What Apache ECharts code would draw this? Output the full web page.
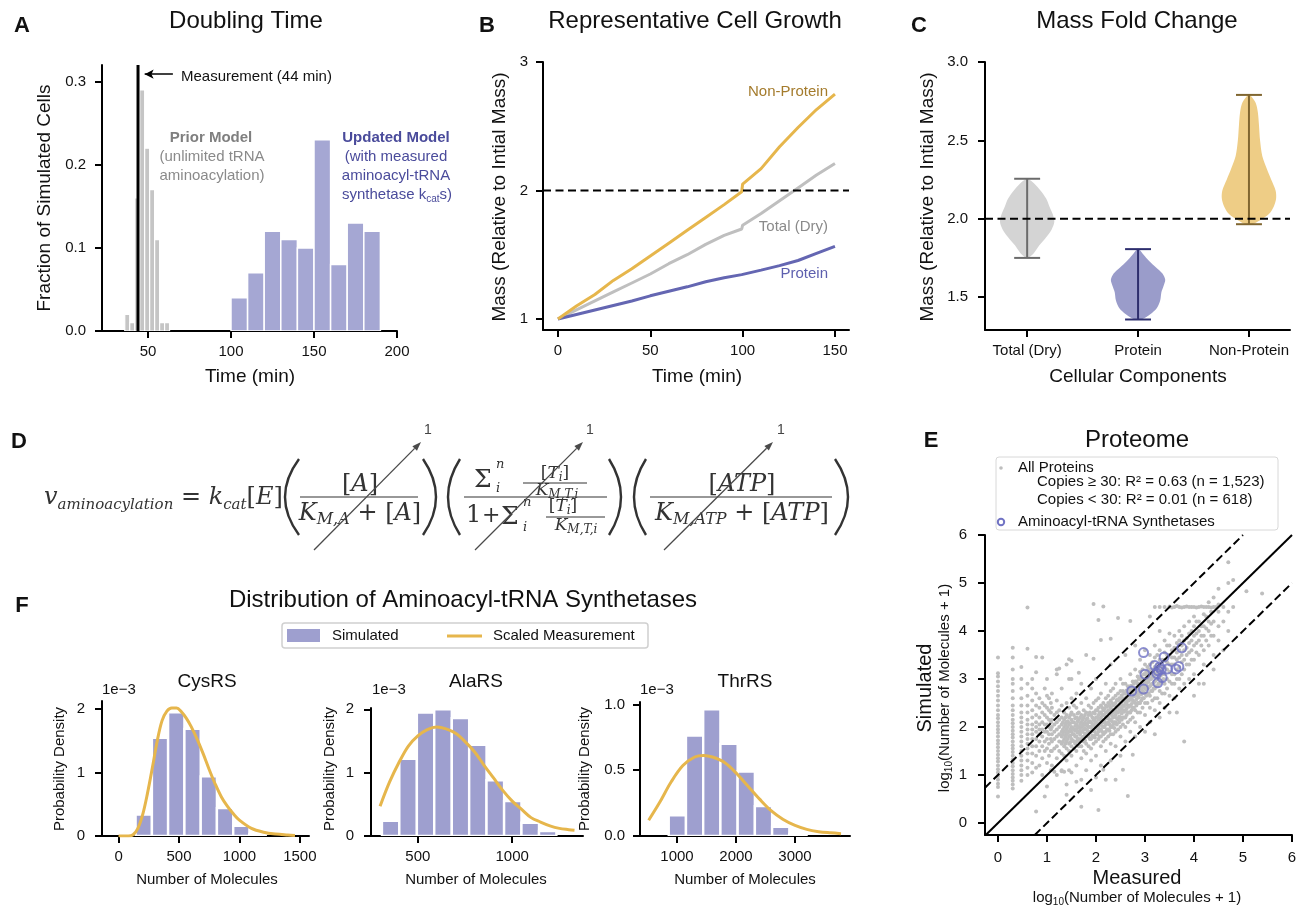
<!DOCTYPE html>
<html>
<head>
<meta charset="utf-8">
<script src="https://cdn.jsdelivr.net/npm/echarts@6/dist/echarts.min.js"></script>
<style>
  html, body { margin: 0; padding: 0; background: #fff; }
  #main { width: 1301px; height: 908px; }
</style>
</head>
<body>
<div id="main"></div>
<script>
var FONT = '"Liberation Sans", Arial, sans-serif';
var MATH = '"DejaVu Serif", serif';

// ---- A: doubling time histograms
var priorBinEdges = [36, 39, 42, 45, 48, 51, 54, 57, 60, 63];
var priorFraction = [0.02, 0.01, 0.16, 0.29, 0.22, 0.17, 0.11, 0.01, 0.01];
var updatedBinEdges = [100, 110, 120, 130, 140, 150, 160, 170, 180, 190];
var updatedFraction = [0.04, 0.07, 0.12, 0.11, 0.10, 0.23, 0.08, 0.13, 0.12];
var measuredDoubling = 44;

// ---- B: representative cell growth
var growthTime = [0, 10, 20, 30, 40, 50, 60, 70, 80, 90, 99.5, 100, 110, 120, 130, 140, 150];
var massNonProtein = [1.0, 1.1, 1.19, 1.3, 1.39, 1.49, 1.59, 1.69, 1.79, 1.89, 1.99, 2.05, 2.17, 2.34, 2.49, 2.63, 2.75];
var massTotal = [1.0, 1.07, 1.14, 1.21, 1.28, 1.35, 1.43, 1.5, 1.58, 1.65, 1.7, 1.73, 1.82, 1.92, 2.02, 2.12, 2.21];
var massProtein = [1.0, 1.035, 1.07, 1.105, 1.14, 1.18, 1.215, 1.25, 1.29, 1.32, 1.345, 1.346, 1.38, 1.415, 1.455, 1.51, 1.565];

// ---- C: mass fold change (violins: [fold change, half width])
var components = ['Total (Dry)', 'Protein', 'Non-Protein'];
var foldMin = [1.75, 1.357, 1.965];
var foldMax = [2.255, 1.806, 2.79];
var violinTotal = [[1.75, 0.01], [1.78, 0.06], [1.83, 0.11], [1.88, 0.17], [1.93, 0.22], [1.98, 0.245], [2.03, 0.23], [2.08, 0.2], [2.13, 0.17], [2.18, 0.12], [2.22, 0.07], [2.255, 0.01]];
var violinProtein = [[1.357, 0.03], [1.39, 0.11], [1.43, 0.17], [1.48, 0.2], [1.53, 0.21], [1.57, 0.23], [1.61, 0.245], [1.65, 0.22], [1.69, 0.16], [1.73, 0.1], [1.77, 0.05], [1.806, 0.01]];
var violinNonProtein = [[1.965, 0.03], [1.99, 0.1], [2.03, 0.18], [2.08, 0.225], [2.13, 0.245], [2.18, 0.24], [2.25, 0.2], [2.32, 0.16], [2.4, 0.12], [2.5, 0.1], [2.6, 0.09], [2.68, 0.08], [2.74, 0.06], [2.79, 0.01]];

// ---- E: proteome, log10(measured+1) column -> log10(simulated+1) values
var proteomeColumns = [
  [0, [0.55, 0.75, 0.82, 0.9, 0.98, 1.05, 1.12, 1.2, 1.28, 1.35, 1.42, 1.5, 1.58, 1.65, 1.72, 1.8, 1.88, 1.95, 2.02, 2.1, 2.18, 2.25, 2.35, 2.45, 2.55, 2.65, 2.75, 2.85, 2.95, 3.05, 3.12, 3.45]],
  [0.301, [0.72, 0.8, 0.88, 0.95, 1.02, 1.1, 1.18, 1.25, 1.32, 1.4, 1.48, 1.55, 1.62, 1.7, 1.78, 1.85, 1.92, 2.0, 2.08, 2.15, 2.25, 2.35, 2.45, 2.6, 2.75, 2.9, 3.0, 3.2, 3.45, 3.65]],
  [0.477, [0.88, 1.0, 1.1, 1.2, 1.3, 1.4, 1.5, 1.6, 1.7, 1.8, 1.9, 2.0, 2.1, 2.2, 2.3, 2.45, 2.6, 2.8, 3.0, 3.25]],
  [0.602, [1.0, 1.15, 1.3, 1.45, 1.55, 1.65, 1.75, 1.85, 1.95, 2.05, 2.15, 2.3, 2.45, 2.65, 2.9, 3.63, 4.49]],
  [0.699, [1.05, 1.25, 1.45, 1.6, 1.75, 1.85, 1.95, 2.05, 2.2, 2.35, 2.55, 2.8, 3.0]],
  [0.778, [0.24, 1.15, 1.4, 1.6, 1.75, 1.9, 2.0, 2.1, 2.25, 2.45, 2.7, 3.14, 3.46]],
  [0.845, [1.2, 1.5, 1.7, 1.85, 1.95, 2.05, 2.2, 2.4, 2.6]],
  [0.903, [1.0, 1.35, 1.6, 1.8, 1.95, 2.1, 2.3, 2.5, 3.45]],
  [0.954, [0.55, 1.5, 1.7, 1.9, 2.05, 2.25, 2.45, 2.8]],
  [1.0, [0.76, 1.25, 1.55, 1.75, 1.9, 2.05, 2.2, 2.4, 2.65, 3.0]],
  [1.041, [1.4, 1.65, 1.85, 2.0, 2.15, 2.35, 2.6]],
  [1.079, [1.1, 1.5, 1.75, 1.95, 2.1, 2.3, 2.5]],
  [1.1, [1.2, 1.5, 1.7, 1.85, 2.0, 2.15, 2.4, 2.7]],
  [1.15, [1.07, 1.55, 1.75, 1.9, 2.05, 2.25]],
  [1.2, [1.0, 1.35, 1.6, 1.8, 1.95, 2.1, 2.3, 2.55, 3.1, 3.2]],
  [1.25, [1.5, 1.7, 1.85, 2.0, 2.15, 2.35, 3.22]],
  [1.3, [1.08, 1.1, 1.45, 1.65, 1.8, 1.9, 2.05, 2.2, 2.45, 2.8]],
  [1.35, [1.07, 1.4, 1.6, 1.75, 1.9, 2.0, 2.15, 2.3]],
  [1.4, [0.59, 0.8, 1.3, 1.55, 1.7, 1.85, 1.95, 2.1, 2.25, 2.5, 3.3]],
  [1.45, [1.1, 1.5, 1.65, 1.8, 1.9, 2.05, 2.2, 2.4, 3.0, 3.41]],
  [1.5, [1.05, 1.4, 1.6, 1.75, 1.9, 2.0, 2.15, 2.3, 2.6, 3.0, 3.38]],
  [1.55, [1.55, 1.7, 1.85, 1.95, 2.1, 2.25, 2.45]],
  [1.6, [0.86, 1.2, 1.5, 1.7, 1.8, 1.95, 2.05, 2.2, 2.4, 2.7]],
  [1.65, [1.6, 1.75, 1.9, 2.0, 2.15, 2.3, 3.13]],
  [1.7, [0.34, 0.9, 1.35, 1.6, 1.75, 1.9, 2.0, 2.1, 2.25, 2.5, 2.9]],
  [1.75, [1.5, 1.7, 1.8, 1.95, 2.05, 2.2, 2.35]],
  [1.8, [1.1, 1.45, 1.65, 1.85, 1.95, 2.05, 2.15, 2.3, 2.6, 3.5]],
  [1.85, [1.6, 1.8, 1.9, 2.0, 2.1, 2.25, 2.45]],
  [1.9, [0.69, 1.3, 1.55, 1.75, 1.9, 2.0, 2.1, 2.25, 2.4, 2.8]],
  [1.95, [1.65, 1.8, 1.95, 2.05, 2.15, 2.3, 2.5, 3.42, 4.56]],
  [2.0, [0.95, 1.4, 1.7, 1.85, 2.0, 2.1, 2.2, 2.35, 2.55, 3.0]],
  [2.05, [0.27, 1.75, 1.9, 2.0, 2.15, 2.25, 2.4, 2.6, 4.23]],
  [2.1, [1.2, 1.6, 1.8, 1.95, 2.1, 2.2, 2.3, 2.45, 2.7, 3.81]],
  [2.15, [1.11, 1.7, 1.85, 2.0, 2.1, 2.25, 2.35, 2.5, 4.51]],
  [2.2, [0.9, 1.5, 1.75, 1.9, 2.05, 2.2, 2.3, 2.45, 2.6, 2.9]],
  [2.25, [1.8, 1.95, 2.1, 2.2, 2.35, 2.5, 2.65]],
  [2.3, [1.3, 1.65, 1.85, 2.0, 2.15, 2.3, 2.4, 2.55, 2.75, 3.3, 3.84]],
  [2.35, [1.85, 2.05, 2.2, 2.3, 2.45, 2.6, 2.8]],
  [2.4, [0.9, 1.6, 1.9, 2.1, 2.25, 2.35, 2.5, 2.65, 2.9]],
  [2.45, [1.95, 2.15, 2.3, 2.4, 2.55, 2.7, 4.27]],
  [2.5, [1.4, 1.8, 2.0, 2.2, 2.35, 2.5, 2.6, 2.75, 3.0]],
  [2.55, [1.11, 2.05, 2.2, 2.35, 2.45, 2.6, 2.75, 2.9]],
  [2.6, [1.7, 2.0, 2.2, 2.35, 2.5, 2.6, 2.7, 2.9, 3.5]],
  [2.65, [0.56, 2.1, 2.3, 2.45, 2.55, 2.7, 2.85]],
  [2.7, [1.9, 2.15, 2.3, 2.45, 2.6, 2.75, 2.85, 3.1, 4.21]],
  [2.75, [1.42, 2.2, 2.4, 2.55, 2.7, 2.8, 2.95]],
  [2.8, [1.8, 2.1, 2.35, 2.5, 2.65, 2.8, 2.95, 3.2, 3.7]],
  [2.85, [2.3, 2.5, 2.65, 2.8, 2.9, 3.05]],
  [2.9, [2.0, 2.3, 2.5, 2.7, 2.85, 3.0, 3.15, 3.4]],
  [2.95, [2.4, 2.6, 2.75, 2.9, 3.0, 3.2]],
  [3.0, [1.9, 2.25, 2.5, 2.7, 2.8, 2.95, 3.1, 3.3, 3.6]],
  [3.05, [2.5, 2.7, 2.85, 3.0, 3.1, 3.25]],
  [3.1, [2.1, 2.4, 2.65, 2.85, 3.0, 3.15, 3.3, 3.5, 4.3]],
  [3.15, [2.55, 2.75, 2.9, 3.05, 3.2, 3.35]],
  [3.2, [1.85, 2.35, 2.6, 2.8, 2.95, 3.1, 3.25, 3.45, 3.7, 4.5]],
  [3.25, [2.6, 2.85, 3.0, 3.15, 3.3, 3.5]],
  [3.3, [2.2, 2.5, 2.75, 2.9, 3.05, 3.2, 3.4, 3.6, 4.0, 4.5]],
  [3.35, [2.7, 2.95, 3.1, 3.25, 3.4]],
  [3.4, [2.4, 2.7, 2.9, 3.1, 3.25, 3.4, 3.55, 3.8, 4.5]],
  [3.45, [2.8, 3.0, 3.2, 3.35, 3.5, 3.7]],
  [3.5, [2.3, 2.65, 2.95, 3.15, 3.3, 3.5, 3.7, 3.95, 4.51]],
  [3.55, [2.9, 3.1, 3.3, 3.45, 3.6, 4.49]],
  [3.6, [2.6, 2.9, 3.1, 3.3, 3.45, 3.65, 3.9, 4.5]],
  [3.65, [2.3, 3.0, 3.2, 3.4, 3.55, 3.75, 4.52]],
  [3.7, [2.8, 3.0, 3.25, 3.45, 3.6, 3.8, 4.0, 4.5]],
  [3.75, [3.1, 3.35, 3.5, 3.7, 3.9, 4.49]],
  [3.8, [1.7, 2.9, 3.2, 3.4, 3.6, 3.8, 4.1, 4.5]],
  [3.85, [3.3, 3.5, 3.65, 3.85, 4.51]],
  [3.9, [3.0, 3.3, 3.55, 3.75, 3.95, 4.2, 4.5]],
  [3.95, [3.4, 3.6, 3.8, 4.0, 4.5]],
  [4.0, [2.65, 3.1, 3.4, 3.7, 3.9, 4.1, 4.3, 4.5]],
  [4.05, [3.55, 3.75, 3.95, 4.2, 4.49]],
  [4.1, [2.9, 3.5, 3.8, 4.0, 4.2, 4.5]],
  [4.15, [3.7, 3.9, 4.1, 4.51]],
  [4.2, [2.9, 3.3, 3.6, 3.9, 4.1, 4.35, 4.5]],
  [4.25, [3.8, 4.05, 4.3, 4.5]],
  [4.3, [3.7, 4.0, 4.2, 4.5, 4.6]],
  [4.35, [3.9, 4.15, 4.4, 4.49]],
  [4.4, [3.2, 3.5, 3.9, 4.2, 4.5, 4.7]],
  [4.45, [4.5]],
  [4.5, [3.8, 4.1, 4.4, 4.55, 4.88]],
  [4.6, [3.6, 4.2, 4.5]],
  [4.7, [4.0, 4.4, 5.0, 5.43]],
  [4.8, [4.5, 5.06]],
  [5.07, [4.83]],
  [5.39, [4.78]]
];
// dense core of the cloud, read between the columns above
var proteomeCore = [
  [1.325, [1.7, 1.85, 1.95, 2.1]], [1.375, [1.65, 1.8, 1.9, 2.05, 2.2]], [1.425, [1.75, 1.88, 2.0, 2.12]],
  [1.475, [1.68, 1.82, 1.95, 2.08, 2.25]], [1.525, [1.72, 1.85, 1.98, 2.1]], [1.575, [1.65, 1.8, 1.92, 2.02, 2.18]],
  [1.625, [1.75, 1.88, 2.0, 2.12, 2.28]], [1.675, [1.7, 1.84, 1.96, 2.06, 2.2]], [1.725, [1.78, 1.9, 2.02, 2.15]],
  [1.775, [1.72, 1.86, 1.98, 2.1, 2.25]], [1.825, [1.8, 1.92, 2.03, 2.18]], [1.875, [1.75, 1.88, 2.0, 2.12, 2.3]],
  [1.925, [1.82, 1.95, 2.06, 2.2]], [1.975, [1.78, 1.9, 2.02, 2.13, 2.28]], [2.025, [1.85, 1.97, 2.08, 2.2, 2.35]],
  [2.075, [1.8, 1.94, 2.05, 2.17, 2.3]], [2.125, [1.9, 2.02, 2.14, 2.26, 2.4]], [2.175, [1.88, 2.0, 2.12, 2.24, 2.38]],
  [2.225, [1.95, 2.07, 2.18, 2.3, 2.42]], [2.275, [1.92, 2.05, 2.16, 2.28, 2.45]], [2.325, [2.0, 2.12, 2.24, 2.36, 2.5]],
  [2.375, [1.98, 2.1, 2.22, 2.34, 2.48]], [2.425, [2.05, 2.18, 2.3, 2.42, 2.56]], [2.475, [2.1, 2.22, 2.34, 2.46, 2.6]],
  [2.525, [2.15, 2.28, 2.4, 2.52, 2.66]], [2.575, [2.2, 2.32, 2.44, 2.56, 2.7]], [2.625, [2.25, 2.38, 2.5, 2.62, 2.76]],
  [2.675, [2.3, 2.42, 2.55, 2.66, 2.8]], [2.725, [2.35, 2.48, 2.6, 2.72, 2.86]], [2.775, [2.4, 2.52, 2.64, 2.76, 2.9]],
  [2.825, [2.45, 2.58, 2.7, 2.82, 2.95]], [2.875, [2.5, 2.62, 2.74, 2.86, 3.0]], [2.925, [2.55, 2.68, 2.8, 2.92, 3.05]],
  [2.975, [2.6, 2.72, 2.84, 2.96, 3.1]], [3.025, [2.65, 2.78, 2.9, 3.02, 3.15]], [3.075, [2.7, 2.82, 2.94, 3.06, 3.2]],
  [3.125, [2.75, 2.88, 3.0, 3.12]], [3.175, [2.8, 2.92, 3.04, 3.16]], [3.225, [2.85, 2.98, 3.1, 3.22]],
  [3.275, [2.9, 3.02, 3.14]], [3.325, [2.95, 3.08, 3.2]], [3.375, [3.0, 3.12, 3.25]]
];
var synthetases = [[2.97, 3.55], [3.75, 3.65], [3.39, 3.46], [3.2, 3.28], [3.27, 3.17], [3.46, 3.21], [3.63, 3.21], [3.69, 3.26], [3.0, 3.1], [3.35, 3.03], [3.26, 2.92], [2.97, 2.79], [2.73, 2.75], [3.33, 3.2], [3.24, 3.12], [3.3, 3.25]];

// ---- F: synthetase distributions (density in units of 1e-3)
var cysEdges = [141, 276, 410, 545, 680, 814, 949, 1083, 1218];
var cysDensity = [0.34, 1.55, 1.95, 1.69, 0.94, 0.44, 0.16, 0.03];
var cysMeasured = [[0, 0], [80, 0], [120, 0.02], [160, 0.12], [200, 0.34], [240, 0.68], [280, 1.08], [320, 1.5], [360, 1.82], [400, 1.97], [440, 2.02], [480, 2.02], [520, 1.96], [560, 1.86], [600, 1.73], [650, 1.53], [700, 1.3], [750, 1.05], [800, 0.82], [850, 0.62], [900, 0.47], [950, 0.35], [1000, 0.25], [1100, 0.12], [1200, 0.06], [1300, 0.03], [1400, 0.015], [1460, 0.008]];
var alaEdges = [310, 402, 495, 587, 680, 772, 864, 957, 1049, 1142, 1234];
var alaDensity = [0.24, 1.22, 1.95, 2.0, 1.86, 1.44, 0.88, 0.55, 0.21, 0.08];
var alaMeasured = [[300, 0.47], [350, 0.85], [400, 1.16], [450, 1.42], [500, 1.58], [550, 1.68], [600, 1.72], [650, 1.69], [700, 1.62], [750, 1.49], [800, 1.33], [850, 1.12], [900, 0.92], [950, 0.72], [1000, 0.55], [1050, 0.42], [1100, 0.29], [1150, 0.22], [1200, 0.16], [1250, 0.12], [1300, 0.1], [1330, 0.09]];
var thrEdges = [860, 1152, 1444, 1736, 2028, 2320, 2612, 2904, 3196];
var thrDensity = [0.157, 0.763, 0.962, 0.7, 0.49, 0.227, 0.07, 0.015];
var thrMeasured = [[520, 0.12], [700, 0.25], [900, 0.41], [1100, 0.535], [1300, 0.6], [1450, 0.612], [1600, 0.6], [1800, 0.56], [2000, 0.48], [2200, 0.38], [2400, 0.28], [2600, 0.19], [2800, 0.125], [3000, 0.08], [3200, 0.05], [3400, 0.033], [3600, 0.024], [3780, 0.018]];

// colours
var GOLD = '#e6b64c', PURPLE_BAR = '#9e9fcf';

var chart = echarts.init(document.getElementById('main'));

function zip(xs, ys) { return xs.map(function (x, i) { return [x, ys[i]]; }); }
function bins(edges, heights) { return heights.map(function (h, i) { return [edges[i], edges[i + 1], h]; }); }

var ctx = document.createElement('canvas').getContext('2d');
function textW(s, f) { ctx.font = f; return ctx.measureText(s).width; }
function fnt(p, family) { return (p[3] ? 'italic ' : '') + (p[4] ? 'bold ' : '') + p[1] + 'px ' + family; }
function txt(x, y, s, f, color, align, rot) {
  return { type: 'text', x: x, y: y, rotation: rot || 0,
    style: { text: s, font: f, fill: color || '#111', textAlign: align || 'center', align: align || 'center',
      textVerticalAlign: 'middle', verticalAlign: 'middle' } };
}
// a run of text pieces of differing size / offset: [text, size, dy, italic, bold]
function textRun(x, y, parts, align, family, color) {
  var ws = parts.map(function (p) { return textW(p[0], fnt(p, family)); });
  var total = ws.reduce(function (a, b) { return a + b; }, 0);
  var cx = align === 'center' ? x - total / 2 : (align === 'right' ? x - total : x);
  return parts.map(function (p, i) {
    var el = txt(cx, y + (p[2] || 0), p[0], fnt(p, family), color, 'left');
    cx += ws[i];
    return el;
  });
}
function logLabel(cx, cy, rot) {
  var kids = textRun(0, 0, [['log', 15], ['10', 10, 4], ['(Number of Molecules + 1)', 15]], 'center', FONT, '#111');
  return { type: 'group', x: cx, y: cy, rotation: rot || 0, children: kids };
}
function hline(x1, x2, y, w, c) { return { type: 'line', shape: { x1: x1, y1: y, x2: x2, y2: y }, style: { stroke: c || '#333', lineWidth: w || 1.2 } }; }
function paren(xEnd, xApex, y1, y2) {
  return { type: 'bezierCurve', shape: { x1: xEnd, y1: y1, x2: xEnd, y2: y2, cpx1: 2 * xApex - xEnd, cpy1: (y1 + y2) / 2 },
    style: { stroke: '#333', lineWidth: 2.4, fill: null } };
}
function arrow(x1, y1, x2, y2) {
  var a = Math.atan2(y2 - y1, x2 - x1), L = 9, W = 3.2;
  var bx = x2 - L * Math.cos(a), by = y2 - L * Math.sin(a);
  return [
    { type: 'line', shape: { x1: x1, y1: y1, x2: bx, y2: by }, style: { stroke: '#4a4a4a', lineWidth: 1.3 } },
    { type: 'polygon', shape: { points: [[x2, y2], [bx - W * Math.sin(a), by + W * Math.cos(a)], [bx + W * Math.sin(a), by - W * Math.cos(a)]] }, style: { fill: '#4a4a4a' } }
  ];
}

function valAxis(gi, min, max, ticks, fmt, margin) {
  return {
    type: 'value', gridIndex: gi, min: min, max: max,
    axisLine: { show: true, onZero: false, lineStyle: { color: '#000', width: 2 } },
    axisTick: { show: true, customValues: ticks, length: 7, lineStyle: { color: '#000', width: 2 } },
    axisLabel: { customValues: ticks, formatter: fmt, fontSize: 15, color: '#111', fontFamily: FONT, margin: margin },
    splitLine: { show: false }
  };
}
function f1(v) { return v.toFixed(1); }
function f0(v) { return String(Math.round(v)); }

function barSeries(ax, data, color, gap) {
  return {
    type: 'custom', xAxisIndex: ax, yAxisIndex: ax, data: data, encode: { x: [0, 1], y: 2 }, clip: true, z: 2,
    renderItem: function (params, api) {
      var p0 = api.coord([api.value(0), api.value(2)]);
      var p1 = api.coord([api.value(1), 0]);
      return { type: 'rect', shape: { x: p0[0], y: p0[1], width: p1[0] - p0[0], height: p1[1] - p0[1] },
        style: { fill: color, stroke: '#fff', lineWidth: gap } };
    }
  };
}
function lineSeries(ax, data, color, width, dash, z, smooth) {
  return { type: 'line', xAxisIndex: ax, yAxisIndex: ax, data: data, showSymbol: false, symbol: 'none', silent: true,
    z: z || 3, smooth: smooth || false, lineStyle: { color: color, width: width, type: dash || 'solid' } };
}

var violinProfiles = [violinTotal, violinProtein, violinNonProtein];
var violinFill = ['#d4d4d4', '#9a9cca', '#eecd86'];
var whiskerColor = ['#6b6b6b', '#2d2e6e', '#806630'];

var proteomePoints = [];
proteomeColumns.concat(proteomeCore).forEach(function (c) { c[1].forEach(function (y) { proteomePoints.push([c[0], y]); }); });

var grids = [
  { left: 102, top: 65, width: 295, height: 266 },   // A
  { left: 543, top: 62, width: 306, height: 268 },   // B
  { left: 985, top: 62, width: 305, height: 268 },   // C
  { left: 985, top: 535, width: 307, height: 300 },  // E
  { left: 102, top: 701, width: 207, height: 135 },  // F Cys
  { left: 371, top: 708, width: 212, height: 128 },  // F Ala
  { left: 640, top: 702, width: 210, height: 134 }   // F Thr
];

var xAxes = [
  valAxis(0, 22.3, 200, [50, 100, 150, 200], f0, 13),
  valAxis(1, -8.1, 157.6, [0, 50, 100, 150], f0, 13),
  valAxis(2, 0.62, 3.37, [1, 2, 3], function (v) { return components[Math.round(v) - 1]; }, 13),
  valAxis(3, -0.265, 6, [0, 1, 2, 3, 4, 5, 6], f0, 15),
  valAxis(4, -137, 1576, [0, 500, 1000, 1500], f0, 13),
  valAxis(5, 252, 1375, [500, 1000], f0, 13),
  valAxis(6, 373, 3932, [1000, 2000, 3000], f0, 13)
];
var yAxes = [
  valAxis(0, 0, 0.32, [0, 0.1, 0.2, 0.3], f1, 16),
  valAxis(1, 0.914, 3, [1, 2, 3], f0, 15),
  valAxis(2, 1.29, 3.0, [1.5, 2.0, 2.5, 3.0], f1, 17),
  valAxis(3, -0.25, 6, [0, 1, 2, 3, 4, 5, 6], f0, 18),
  valAxis(4, 0, 2.13, [0, 1, 2], f0, 17),
  valAxis(5, 0, 2.02, [0, 1, 2], f0, 17),
  valAxis(6, 0, 1.018, [0, 0.5, 1.0], f1, 15)
];

var series = [
  // A
  barSeries(0, bins(priorBinEdges, priorFraction), '#c5c5c5', 1.2),
  barSeries(0, bins(updatedBinEdges, updatedFraction), '#a5a7d3', 1.5),
  {
    type: 'line', xAxisIndex: 0, yAxisIndex: 0, data: [[measuredDoubling, 0], [measuredDoubling, 0.32]], symbol: 'none', silent: true, z: 4,
    lineStyle: { color: '#000', width: 3 },
    markLine: { silent: true, symbol: ['none', 'arrow'], symbolSize: [7, 9], label: { show: false },
      lineStyle: { color: '#000', width: 1.5, type: 'solid' },
      data: [[{ coord: [65, 0.309] }, { coord: [48, 0.309] }]] }
  },
  // B
  lineSeries(1, zip(growthTime, massTotal), '#bfbfbf', 3),
  lineSeries(1, zip(growthTime, massProtein), '#6466b2', 3),
  lineSeries(1, zip(growthTime, massNonProtein), GOLD, 3),
  lineSeries(1, [[-8.1, 2], [157.6, 2]], '#000', 2, [8, 4.5], 5),
  // C
  {
    type: 'custom', xAxisIndex: 2, yAxisIndex: 2, z: 2,
    data: components.map(function (c, i) { return [i + 1, foldMin[i], foldMax[i]]; }),
    encode: { x: 0, y: [1, 2] },
    renderItem: function (params, api) {
      var i = params.dataIndex, c = api.value(0), prof = violinProfiles[i];
      var left = prof.map(function (p) { return api.coord([c - p[1], p[0]]); });
      var right = prof.slice().reverse().map(function (p) { return api.coord([c + p[1], p[0]]); });
      var lo = api.coord([c, api.value(1)]), hi = api.coord([c, api.value(2)]);
      var xl = api.coord([c - 0.117, 2])[0], xr = api.coord([c + 0.117, 2])[0];
      var st = { stroke: whiskerColor[i], lineWidth: 2 };
      return { type: 'group', children: [
        { type: 'polygon', shape: { points: left.concat(right), smooth: 0.3 }, style: { fill: violinFill[i] } },
        { type: 'line', shape: { x1: lo[0], y1: lo[1], x2: hi[0], y2: hi[1] }, style: st },
        { type: 'line', shape: { x1: xl, y1: lo[1], x2: xr, y2: lo[1] }, style: st },
        { type: 'line', shape: { x1: xl, y1: hi[1], x2: xr, y2: hi[1] }, style: st }
      ] };
    }
  },
  lineSeries(2, [[0.62, 2], [3.37, 2]], '#000', 2, [8, 4.5], 5),
  // E
  { type: 'scatter', xAxisIndex: 3, yAxisIndex: 3, data: proteomePoints, symbolSize: 4, silent: true, z: 2,
    itemStyle: { color: '#bebebe', opacity: 1 } },
  lineSeries(3, [[-0.25, -0.25], [6, 6]], '#000', 2, 'solid', 3),
  lineSeries(3, [[-0.265, 0.735], [5, 6]], '#000', 2, [8, 4], 3),
  lineSeries(3, [[0.75, -0.25], [6, 5]], '#000', 2, [8, 4], 3),
  { type: 'scatter', xAxisIndex: 3, yAxisIndex: 3, data: synthetases, symbolSize: 9, silent: true, z: 4,
    itemStyle: { color: 'rgba(0,0,0,0)', borderColor: '#7173c4', borderWidth: 2 } },
  // F
  barSeries(4, bins(cysEdges, cysDensity), PURPLE_BAR, 2.4),
  lineSeries(4, cysMeasured, GOLD, 3, 'solid', 3, 0.35),
  barSeries(5, bins(alaEdges, alaDensity), PURPLE_BAR, 2.4),
  lineSeries(5, alaMeasured, GOLD, 3, 'solid', 3, 0.35),
  barSeries(6, bins(thrEdges, thrDensity), PURPLE_BAR, 2.4),
  lineSeries(6, thrMeasured, GOLD, 3, 'solid', 3, 0.35)
];

// ---- text and decorations
var T24 = '24px ' + FONT, T19 = '19px ' + FONT, T15 = '15px ' + FONT, BOLD = 'bold 22px ' + FONT;
var R = Math.PI / 2;
var g = [];
function add(el) { if (Array.isArray(el)) el.forEach(function (e) { g.push(e); }); else g.push(el); }

// panel letters and titles
add(txt(22, 26, 'A', BOLD)); add(txt(487, 26, 'B', BOLD)); add(txt(919, 26, 'C', BOLD));
add(txt(19, 442, 'D', BOLD)); add(txt(931, 441, 'E', BOLD)); add(txt(22, 606, 'F', BOLD));
add(txt(246, 21, 'Doubling Time', T24));
add(txt(695, 21, 'Representative Cell Growth', T24));
add(txt(1137, 21, 'Mass Fold Change', T24));
add(txt(1137, 440, 'Proteome', T24));
add(txt(463, 600, 'Distribution of Aminoacyl-tRNA Synthetases', T24));

// axis names
add(txt(45, 198, 'Fraction of Simulated Cells', T19, '#111', 'center', R));
add(txt(250, 377, 'Time (min)', T19));
add(txt(500, 197, 'Mass (Relative to Intial Mass)', T19, '#111', 'center', R));
add(txt(697, 377, 'Time (min)', T19));
add(txt(928, 197, 'Mass (Relative to Intial Mass)', T19, '#111', 'center', R));
add(txt(1138, 377, 'Cellular Components', T19));
add(txt(925, 688, 'Simulated', '20px ' + FONT, '#111', 'center', R));
add(logLabel(945, 688, R));
add(txt(1137, 878, 'Measured', '20px ' + FONT));
add(logLabel(1137, 898, 0));

// A annotations
add(txt(181, 77, 'Measurement (44 min)', T15, '#111', 'left'));
add(txt(211, 138, 'Prior Model', 'bold 15px ' + FONT, '#7f7f7f'));
add(txt(212, 157, '(unlimited tRNA', T15, '#8a8a8a'));
add(txt(212, 176, 'aminoacylation)', T15, '#8a8a8a'));
add(txt(396, 138, 'Updated Model', 'bold 15px ' + FONT, '#4a4b9b'));
add(txt(396, 157, '(with measured', T15, '#4a4b9b'));
add(txt(396, 176, 'aminoacyl-tRNA', T15, '#4a4b9b'));
add(textRun(397, 195, [['synthetase k', 15], ['cat', 10, 4], ['s)', 15]], 'center', FONT, '#4a4b9b'));

// B line labels
add(txt(828, 92, 'Non-Protein', T15, '#a47b2c', 'right'));
add(txt(828, 227, 'Total (Dry)', T15, '#8a8a8a', 'right'));
add(txt(828, 274, 'Protein', T15, '#5d5fae', 'right'));

// E legend
add({ type: 'rect', shape: { x: 996, y: 457, width: 282, height: 73, r: 3 }, style: { fill: '#fff', stroke: '#d8d8d8', lineWidth: 1 } });
add({ type: 'circle', shape: { cx: 1001, cy: 468, r: 1.8 }, style: { fill: '#bebebe' } });
add(txt(1018, 468, 'All Proteins', T15, '#111', 'left'));
add(txt(1037, 482, 'Copies \u2265 30: R\u00b2 = 0.63 (n = 1,523)', T15, '#111', 'left'));
add(txt(1037, 500, 'Copies < 30: R\u00b2 = 0.01 (n = 618)', T15, '#111', 'left'));
add({ type: 'circle', shape: { cx: 1001, cy: 522, r: 3.2 }, style: { fill: 'none', stroke: '#7173c4', lineWidth: 2 } });
add(txt(1018, 522, 'Aminoacyl-tRNA Synthetases', T15, '#111', 'left'));

// F legend, titles, labels
add({ type: 'rect', shape: { x: 282, y: 623, width: 366, height: 25, r: 3 }, style: { fill: '#fff', stroke: '#d0d0d0', lineWidth: 1.5 } });
add({ type: 'rect', shape: { x: 287, y: 629, width: 33, height: 13 }, style: { fill: PURPLE_BAR } });
add(txt(332, 636, 'Simulated', T15, '#111', 'left'));
add(hline(447, 482, 636, 3, GOLD));
add(txt(493, 636, 'Scaled Measurement', T15, '#111', 'left'));
[[207, 102, 60, 'CysRS'], [476, 372, 330, 'AlaRS'], [745, 640, 585, 'ThrRS']].forEach(function (p) {
  add(txt(p[0], 682, p[3], T19));
  add(txt(p[1], 690, '1e\u22123', T15, '#111', 'left'));
  add(txt(p[2], 769, 'Probability Density', T15, '#111', 'center', R));
  add(txt(p[0], 880, 'Number of Molecules', T15));
});

// D: rate law
var EQ = '#333';
add(textRun(44, 498, [['v', 24, 0, 1], ['aminoacylation', 15, 7, 1], [' = ', 24, 0], ['k', 24, 0, 1], ['cat', 15, 7, 1], ['[', 24, 0], ['E', 24, 0, 1], [']', 24, 0]], 'left', MATH, EQ));
// fraction 1
add(textRun(360, 485, [['[', 24], ['A', 24, 0, 1], [']', 24]], 'center', MATH, EQ));
add(hline(300, 418, 497, 1.2, EQ));
add(textRun(360, 514, [['K', 24, 0, 1], ['M,A', 16, 6, 1], [' + ', 24], ['[', 24], ['A', 24, 0, 1], [']', 24]], 'center', MATH, EQ));
// fraction 2
add(txt(474, 480, '\u03a3', '25px ' + MATH, EQ, 'left'));
add(txt(496, 465, 'n', 'italic 13px ' + MATH, EQ, 'left'));
add(txt(496, 489, 'i', 'italic 13px ' + MATH, EQ, 'left'));
add(textRun(555, 474, [['[', 17], ['T', 17, 0, 1], ['i', 12, 4, 1], [']', 17]], 'center', MATH, EQ));
add(hline(523, 587, 483, 1, EQ));
add(textRun(557, 491, [['K', 17, 0, 1], ['M,T,i', 12, 4, 1]], 'center', MATH, EQ));
add(hline(464, 607, 497, 1.2, EQ));
add(txt(466, 516, '1', '24px ' + MATH, EQ, 'left'));
add(txt(482, 516, '+', '22px ' + MATH, EQ, 'left'));
add(txt(501, 517, '\u03a3', '25px ' + MATH, EQ, 'left'));
add(txt(523, 503, 'n', 'italic 13px ' + MATH, EQ, 'left'));
add(txt(523, 528, 'i', 'italic 13px ' + MATH, EQ, 'left'));
add(textRun(563, 507, [['[', 17], ['T', 17, 0, 1], ['i', 12, 4, 1], [']', 17]], 'center', MATH, EQ));
add(hline(546, 605, 517, 1, EQ));
add(textRun(576, 526, [['K', 17, 0, 1], ['M,T,i', 12, 4, 1]], 'center', MATH, EQ));
// fraction 3
add(textRun(742, 485, [['[', 24], ['ATP', 24, 0, 1], [']', 24]], 'center', MATH, EQ));
add(hline(650, 832, 497, 1.2, EQ));
add(textRun(742, 514, [['K', 24, 0, 1], ['M,ATP', 16, 6, 1], [' + ', 24], ['[', 24], ['ATP', 24, 0, 1], [']', 24]], 'center', MATH, EQ));
// big parentheses
add(paren(299, 285, 459, 535)); add(paren(423, 436, 459, 535));
add(paren(460, 448, 459, 535)); add(paren(609, 621, 459, 535));
add(paren(646, 634, 459, 535)); add(paren(835, 848, 459, 535));
// cancellation arrows
add(arrow(314, 550, 421, 442)); add(txt(428, 430, '1', '14px ' + FONT, '#444'));
add(arrow(475, 550, 583, 442)); add(txt(590, 430, '1', '14px ' + FONT, '#444'));
add(arrow(664, 550, 773, 442)); add(txt(781, 430, '1', '14px ' + FONT, '#444'));

chart.setOption({
  animation: false,
  backgroundColor: '#fff',
  textStyle: { fontFamily: FONT },
  grid: grids,
  xAxis: xAxes,
  yAxis: yAxes,
  series: series,
  graphic: { elements: g }
});
</script>
</body>
</html>
